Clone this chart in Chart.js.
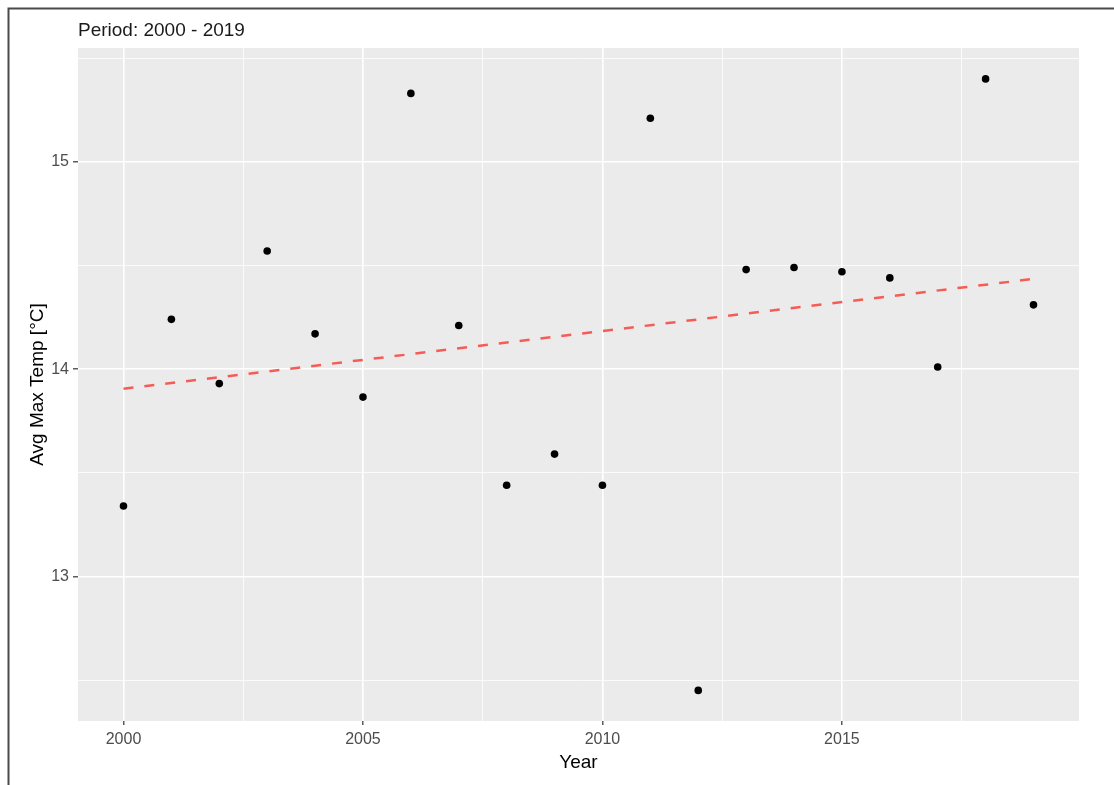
<!DOCTYPE html>
<html>
<head>
<meta charset="utf-8">
<script src="https://cdn.jsdelivr.net/npm/chart.js@4/dist/chart.umd.min.js"></script>
<style>
  body { margin: 0; background: #fff; }
  #wrap { width: 1114px; height: 785px; position: relative; }
</style>
</head>
<body>
<div id="wrap"><canvas id="tempChart"></canvas></div>
<script>
// yearly average max temperature
const years = [2000, 2001, 2002, 2003, 2004, 2005, 2006, 2007, 2008, 2009,
               2010, 2011, 2012, 2013, 2014, 2015, 2016, 2017, 2018, 2019];
const avgMaxTemp = [13.34, 14.24, 13.93, 14.57, 14.17, 13.865, 15.33, 14.21, 13.44, 13.59,
                    13.44, 15.21, 12.45, 14.48, 14.49, 14.47, 14.44, 14.01, 15.40, 14.31];

// dashed trend line, read at its two ends
const trendYears = [2000, 2019];
const trendValues = [13.905, 14.435];

// grid positions (major ones get labels)
const xGrid = [2000, 2002.5, 2005, 2007.5, 2010, 2012.5, 2015, 2017.5];
const yGrid = [12.5, 13, 13.5, 14, 14.5, 15, 15.5];
const xMajor = [2000, 2005, 2010, 2015];
const yMajor = [13, 14, 15];

const fontFamily = '"Liberation Sans", Arial, sans-serif';

const panelAndFrame = {
  id: 'panelAndFrame',
  beforeDraw(chart) {
    const { ctx, chartArea: a } = chart;
    ctx.save();
    ctx.fillStyle = '#EBEBEB';
    ctx.fillRect(a.left, a.top, a.right - a.left, a.bottom - a.top);
    ctx.restore();
  },
  afterDraw(chart) {
    const ctx = chart.ctx;
    ctx.save();
    ctx.fillStyle = '#1a1a1a';
    ctx.font = '19px ' + fontFamily;
    ctx.textBaseline = 'alphabetic';
    ctx.fillText('Period: 2000 - 2019', 78, 36);
    ctx.strokeStyle = '#4a4a4a';
    ctx.lineWidth = 2;
    ctx.beginPath();
    ctx.moveTo(8.5, 785);
    ctx.lineTo(8.5, 8.5);
    ctx.lineTo(1114, 8.5);
    ctx.stroke();
    ctx.restore();
  }
};

const tempChart = new Chart(document.getElementById('tempChart'), {
  type: 'scatter',
  data: {
    datasets: [{
      type: 'line',
      label: 'Trend',
      data: trendYears.map((y, i) => ({ x: y, y: trendValues[i] })),
      borderColor: 'rgb(246, 92, 86)',
      borderWidth: 2.5,
      borderDash: [10, 11],
      pointRadius: 0,
      fill: false
    }, {
      label: 'Avg Max Temp',
      data: years.map((y, i) => ({ x: y, y: avgMaxTemp[i] })),
      backgroundColor: '#000',
      borderColor: '#000',
      pointRadius: 3.8,
      borderWidth: 0
    }]
  },
  options: {
    responsive: true,
    maintainAspectRatio: false,
    animation: false,
    layout: { padding: { left: 0, top: 48, right: 35, bottom: 0 } },
    plugins: { legend: { display: false }, tooltip: { enabled: false } },
    scales: {
      x: {
        type: 'linear',
        min: 1999.05,
        max: 2019.95,
        afterBuildTicks: (scale) => { scale.ticks = xGrid.map(v => ({ value: v })); },
        afterFit: (scale) => { scale.height = 64; },
        border: { display: false },
        grid: {
          color: '#FFFFFF',
          lineWidth: (c) => xMajor.includes(c.tick.value) ? 1.6 : 0.8,
          tickColor: (c) => xMajor.includes(c.tick.value) ? '#333333' : 'rgba(0,0,0,0)',
          tickLength: 4,
          tickWidth: 1.2
        },
        ticks: {
          autoSkip: false,
          maxRotation: 0,
          padding: 5,
          color: '#4D4D4D',
          font: { family: fontFamily, size: 16 },
          callback: (v) => xMajor.includes(v) ? String(v) : ''
        },
        title: {
          display: true,
          text: 'Year',
          color: '#000',
          font: { family: fontFamily, size: 19 },
          padding: { top: 0, bottom: 11 }
        }
      },
      y: {
        min: 12.3025,
        max: 15.549,
        afterBuildTicks: (scale) => { scale.ticks = yGrid.map(v => ({ value: v })); },
        afterFit: (scale) => { scale.width = 78; },
        border: { display: false },
        grid: {
          color: '#FFFFFF',
          lineWidth: (c) => yMajor.includes(c.tick.value) ? 1.6 : 0.8,
          tickColor: (c) => yMajor.includes(c.tick.value) ? '#333333' : 'rgba(0,0,0,0)',
          tickLength: 5,
          tickWidth: 1.2
        },
        ticks: {
          autoSkip: false,
          padding: 4,
          color: '#4D4D4D',
          font: { family: fontFamily, size: 16 },
          callback: (v) => yMajor.includes(v) ? String(v) : ''
        },
        title: {
          display: true,
          text: 'Avg Max Temp [°C]',
          color: '#000',
          font: { family: fontFamily, size: 19 },
          padding: { top: 26, bottom: 0 }
        }
      }
    }
  },
  plugins: [panelAndFrame]
});
</script>
</body>
</html>
